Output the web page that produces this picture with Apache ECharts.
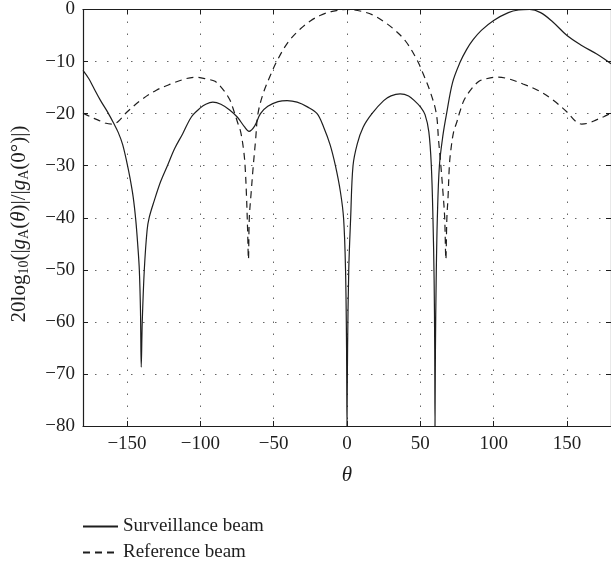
<!DOCTYPE html>
<html><head><meta charset="utf-8">
<script src="https://cdn.jsdelivr.net/npm/echarts@6/dist/echarts.min.js"></script>
<style>html,body{margin:0;padding:0;background:#fff}#c{width:611px;height:567px}</style>
</head><body><div id="c"></div>
<script>
const xTicks = [-150, -100, -50, 0, 50, 100, 150];
const seriesNames = ['Surveillance beam', 'Reference beam'];

const survTheta = [-180,-176,-173,-168,-163,-159,-156,-153,-150,-148,-145.8,-144,-142.6,-141.6,-140.8,-140.3,-139.6,-138.2,-136.3,-134.8,-131.4,-127,-122.3,-117.5,-112.1,-106,-100,-96.3,-91.5,-86,-80,-74.7,-70,-66.8,-63,-59,-54,-47,-40.8,-34,-27,-20.4,-15.9,-11.5,-7.9,-4.5,-2.3,-1,-0.3,0,0.4,1.2,2.5,4.1,7,11,17,25,30,36.2,42,47,50,53.2,55.8,57.5,58.6,59.4,59.8,60,60.3,60.8,61.6,63,65.5,67.9,72,77,81.5,86,91.6,100,110,117,124.5,132,140,150,160,170,175,180];
const survDb = [-11.7,-13.3,-14.9,-17.5,-19.8,-21.9,-23.6,-25.9,-29.5,-32.3,-36.0,-40.5,-45.5,-50,-58,-68.7,-60,-50,-42.4,-39.9,-36.7,-33,-29.9,-26.7,-23.9,-20.6,-18.9,-18.2,-17.8,-18.2,-19.3,-20.7,-22.5,-23.4,-22.4,-20.0,-18.6,-17.7,-17.5,-17.8,-18.7,-20.0,-22.6,-26.0,-30,-35,-40.2,-50,-65,-80,-65,-50,-40,-30,-25.8,-22.6,-20,-17.5,-16.6,-16.2,-16.6,-17.8,-18.7,-20.2,-23.5,-30,-40,-52,-65,-80,-65,-52,-40,-30,-24,-20,-14.0,-10.2,-7.7,-5.8,-4.0,-2.1,-0.6,-0.1,0,-0.6,-2.3,-5.0,-6.9,-8.5,-9.4,-10.4];

const refTheta = [-180,-175,-170,-165,-160,-156,-150,-140,-130,-120,-110,-103,-95,-90,-85,-80,-77,-74.7,-72.5,-70.5,-69.5,-68.5,-67.8,-67.2,-66.6,-65.3,-63.9,-62.3,-60.7,-57,-52,-47.6,-40,-31.7,-25,-18,-10,0,10,18,25,32,40,47.6,52,57,60.9,62.4,64,65.4,66.6,67.4,68.1,68.9,69.8,70.8,72.7,74.9,77,80,85,90,95,102,110,120,130,140,150,156,160,165,170,175,180];
const refDb = [-19.9,-20.6,-21.2,-21.8,-22.0,-21.5,-19.7,-17.3,-15.5,-14.3,-13.3,-13.0,-13.4,-13.8,-15.2,-17.3,-19.6,-21.6,-23.5,-27,-30,-36,-42,-48,-40,-35,-30,-25,-20,-16,-12.5,-9.8,-6.2,-3.7,-2.2,-1.1,-0.35,0,-0.35,-1.1,-2.3,-3.8,-6.1,-9.6,-12.4,-16,-20,-25,-30,-35,-40,-48,-40,-36,-30,-27,-23.5,-21.6,-19.6,-17.3,-15.2,-13.8,-13.3,-13.0,-13.3,-14.3,-15.5,-17.3,-19.7,-21.5,-22.0,-21.8,-21.2,-20.6,-19.9];

const FONT = 'Liberation Serif';
const INK = '#1e1e1e';
const minus = v => String(v).replace('-', '\u2212');

const chart = echarts.init(document.getElementById('c'), null, {renderer: 'canvas'});
const tickStyle = {show: true, inside: true, length: 5, lineStyle: {color: INK, width: 1}};
const gridLine = {show: true, lineStyle: {color: '#666', type: [1.5, 10.5], width: 1}};
chart.setOption({
  animation: false,
  backgroundColor: '#fff',
  grid: {left: 83, right: 0, top: 9, bottom: 141, containLabel: false},
  xAxis: [{
    type: 'value', min: -180, max: 180, position: 'bottom',
    axisLine: {show: true, onZero: false, lineStyle: {color: INK, width: 1.2}},
    axisTick: Object.assign({customValues: xTicks}, tickStyle),
    axisLabel: {customValues: xTicks, formatter: minus, fontFamily: FONT, fontSize: 19, color: INK, margin: 9},
    splitLine: gridLine,
    name: '\u03b8', nameLocation: 'middle', nameGap: 39,
    nameTextStyle: {fontFamily: FONT, fontSize: 21, fontStyle: 'italic', color: INK}
  }, {
    type: 'value', min: -180, max: 180, position: 'top',
    axisLine: {show: true, onZero: false, lineStyle: {color: INK, width: 1.2}},
    axisTick: Object.assign({customValues: xTicks}, tickStyle),
    axisLabel: {show: false, customValues: xTicks},
    splitLine: {show: false}
  }],
  yAxis: [{
    type: 'value', min: -80, max: 0, interval: 10, position: 'left',
    axisLine: {show: true, onZero: false, lineStyle: {color: INK, width: 1.2}},
    axisTick: tickStyle,
    axisLabel: {formatter: minus, fontFamily: FONT, fontSize: 19, color: INK, margin: 8},
    splitLine: gridLine
  }, {
    type: 'value', min: -80, max: 0, interval: 10, position: 'right',
    axisLine: {show: true, onZero: false, lineStyle: {color: INK, width: 1.2}},
    axisTick: tickStyle,
    axisLabel: {show: false},
    splitLine: {show: false}
  }],
  legend: {
    orient: 'vertical', left: 82, top: 517, padding: 0,
    itemWidth: 35, itemHeight: 14, itemGap: 7,
    itemStyle: {opacity: 0, color: 'transparent', borderWidth: 0},
    textStyle: {fontFamily: FONT, fontSize: 19, color: INK, lineHeight: 19},
    data: seriesNames
  },
  graphic: [{
    type: 'text', x: 19, y: 224, rotation: Math.PI / 2,
    style: {
      text: '{n|20log}{s|10}{n|(|}{i|g}{s|A}{n|(}{i|\u03b8}{n|)|/|}{i|g}{s|A}{n|(0\u00b0)|)}',
      align: 'center', verticalAlign: 'middle',
      fill: INK, fontFamily: FONT, fontSize: 21,
      rich: {
        n: {fontFamily: FONT, fontSize: 21, fill: INK},
        i: {fontFamily: FONT, fontSize: 21, fontStyle: 'italic', fill: INK},
        s: {fontFamily: FONT, fontSize: 14, fill: INK, padding: [10, 0, 0, 0]}
      }
    }
  }],
  series: [{
    name: seriesNames[0], type: 'line', xAxisIndex: 0, yAxisIndex: 0,
    data: survTheta.map((t, i) => [t, survDb[i]]),
    symbol: 'none', smooth: 0.35, clip: true,
    lineStyle: {color: INK, width: 1.2, type: 'solid'}, itemStyle: {color: INK}
  }, {
    name: seriesNames[1], type: 'line', xAxisIndex: 0, yAxisIndex: 0,
    data: refTheta.map((t, i) => [t, refDb[i]]),
    symbol: 'none', smooth: 0.35, clip: true,
    lineStyle: {color: INK, width: 1.2, type: [7, 5]}, itemStyle: {color: INK}
  }]
});
</script>
</body></html>
